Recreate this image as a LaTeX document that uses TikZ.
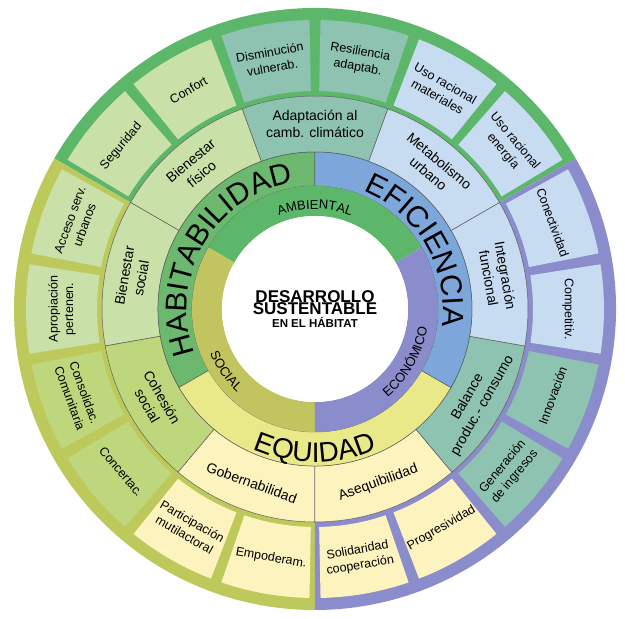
\documentclass[tikz,border=0pt]{standalone}
\usepackage{fontspec}
\setmainfont{Liberation Sans}
\usetikzlibrary{decorations.text}
\definecolor{ambgreen}{HTML}{5DB76B}
\definecolor{socolive}{HTML}{C2C460}
\definecolor{ecopurple}{HTML}{8A8CCB}
\definecolor{habgreen}{HTML}{6DB86F}
\definecolor{efiblue}{HTML}{7DA7DA}
\definecolor{equyellow}{HTML}{E9E98A}
\definecolor{lightgreen}{HTML}{C9E1A8}
\definecolor{tealish}{HTML}{8FC3B1}
\definecolor{lightblue}{HTML}{C8DCF1}
\definecolor{yellowgreen}{HTML}{BED77C}
\definecolor{paleyellow}{HTML}{FCF3BF}
\definecolor{bandolive}{HTML}{BEC95C}
\definecolor{linegray}{HTML}{5A5A5A}
\newcommand\bigcenter{\fontsize{17}{20}\selectfont}
\newcommand\smallcenter{\fontsize{11.5}{14}\selectfont}

\begin{document}
\begin{tikzpicture}[x=1pt,y=1pt,
  wedge/.style n args={4}{insert path={(#1:#3pt) arc[start angle=#1,end angle=#2,radius=#3pt] -- (#2:#4pt) arc[start angle=#2,end angle=#1,radius=#4pt] -- cycle}},
  midlbl/.style={align=center,font=\fontsize{14}{17}\selectfont,inner sep=0pt},
  outlbl/.style={align=center,font=\fontsize{12.5}{15.5}\selectfont,inner sep=0pt},
  curved/.style={decorate,decoration={text along path,text align=center,text={#1}}}]
\useasboundingbox (-315,-310) rectangle (310,309);
% outer band
\fill[ambgreen, wedge={30}{150}{213}{301}];
\fill[bandolive, wedge={150}{270}{213}{301}];
\fill[ecopurple, wedge={270}{390}{213}{301}];
\foreach \a/\c in {80/tealish,100/tealish,120/lightgreen,140/lightgreen,160/lightgreen,180/lightgreen,
  200/yellowgreen,220/yellowgreen,240/paleyellow,260/paleyellow,280/paleyellow,300/paleyellow,
  320/tealish,340/tealish,360/lightblue,380/lightblue,400/lightblue,420/lightblue}
  \fill[\c, wedge={\a-8.9}{\a+8.9}{218}{289}];
% third ring
\foreach \a/\c in {70/tealish,110/lightgreen,150/lightgreen,190/yellowgreen,230/paleyellow,270/paleyellow,310/tealish,350/lightblue,30/lightblue}
  \filldraw[fill=\c, draw=linegray, line width=0.5pt, wedge={\a}{\a+40}{157}{213}];
% second ring
\filldraw[fill=habgreen, draw=linegray, line width=0.5pt, wedge={90}{210}{123}{157}];
\filldraw[fill=equyellow, draw=linegray, line width=0.5pt, wedge={210}{330}{123}{157}];
\filldraw[fill=efiblue, draw=linegray, line width=0.5pt, wedge={330}{450}{123}{157}];
% inner ring
\fill[ambgreen, wedge={30}{150}{93}{123}];
\fill[socolive, wedge={150}{270}{93}{123}];
\fill[ecopurple, wedge={270}{390}{93}{123}];
\fill[white] (0,0) circle[radius=93pt];
% curved titles
\path[curved={|\fontsize{30}{30}\selectfont|HABITABILIDAD}] (207:128pt) arc[start angle=207,end angle=93,radius=128pt];
\path[curved={|\fontsize{30}{30}\selectfont|EFICIENCIA}] (87:128pt) arc[start angle=87,end angle=-27,radius=128pt];
\path[curved={|\fontsize{28}{28}\selectfont|EQUIDAD}] (245:153pt) arc[start angle=245,end angle=295,radius=153pt];
\path[curved={|\fontsize{13}{13}\selectfont|AMBIENTAL}] (125:100pt) arc[start angle=125,end angle=55,radius=100pt];
\path[curved={|\fontsize{13}{13}\selectfont|SOCIAL}] (190:114pt) arc[start angle=190,end angle=240,radius=114pt];
\path[curved={|\fontsize{13}{13}\selectfont|ECONÓMICO}] (295:114pt) arc[start angle=295,end angle=365,radius=114pt];
% center
\node[align=center, font=\bfseries] (centro) at (0,0) {\bigcenter DESARROLLO\\[-1pt]\bigcenter SUSTENTABLE\\[1pt]\smallcenter EN EL HÁBITAT};
% third ring labels
\foreach \a/\t/\n in {90/{Adaptación al\\camb. climático}/adapt, 130/{Bienestar\\físico}/bfisico,
  170/{Bienestar\\social}/bsocial, 210/{Cohesión\\social}/cohesion, 250/{Gobernabilidad}/gobern,
  290/{Asequibilidad}/asequi, 330/{Balance\\produc.- consumo}/balance, 10/{Integración\\funcional}/integr,
  50/{Metabolismo\\urbano}/metab}
{
  \pgfmathsetmacro\rot{\a<=180 ? \a-90 : \a+90}
  \node[midlbl, rotate=\rot] (\n) at (\a:185pt) {\t};
}
% outer labels
\foreach \a/\t/\n in {80/{Resiliencia\\adaptab.}/resil, 100/{Disminución\\vulnerab.}/dismin, 120/{Confort}/confort,
  140/{Seguridad}/segur, 160/{Acceso serv.\\urbanos}/acceso, 180/{Apropiación\\pertenen.}/apropia,
  200/{Consolidac.\\Comunitaria}/consol, 220/{Concertac.}/concert, 240/{Participación\\mutilactoral}/partic,
  260/{Empoderam.}/empod, 280/{Solidaridad\\cooperación}/solid, 300/{Progresividad}/progres,
  320/{Generación\\de ingresos}/genera, 340/{Innovación}/innov, 0/{Competitiv.}/compet,
  20/{Conectividad}/conect, 40/{Uso racional\\energía}/energia, 60/{Uso racional\\materiales}/materia}
{
  \pgfmathsetmacro\rot{\a<=180 ? \a-90 : \a+90}
  \node[outlbl, rotate=\rot] (\n) at (\a:253pt) {\t};
}
\end{tikzpicture}
\end{document}
